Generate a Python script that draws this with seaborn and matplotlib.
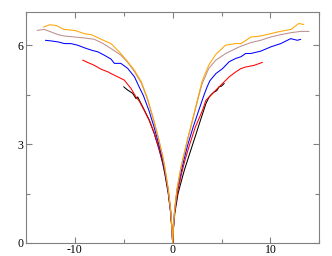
import numpy as np
import pandas as pd
import matplotlib
matplotlib.use('Agg')
import matplotlib.pyplot as plt
import seaborn as sns
from matplotlib.ticker import MultipleLocator

# curves, left end -> cusp at 0 -> right end
black_x = [-5.0, -4.85, -4.6, -4.08, -3.74, -3.57, -3.06, -2.39, -1.88, -1.37, -1.02, -0.8, -0.45, -0.2, -0.08, 0.0,
           0.08, 0.22, 0.55, 1.0, 1.2, 1.75, 2.3, 2.85, 3.4, 3.73, 4.0, 4.24, 4.5, 4.76, 5.0, 5.27]
black_y = [4.74, 4.7, 4.64, 4.54, 4.38, 4.43, 4.13, 3.73, 3.32, 2.82, 2.42, 2.1, 1.5, 0.9, 0.42, 0.0,
           0.42, 0.9, 1.5, 2.0, 2.21, 2.72, 3.22, 3.73, 4.23, 4.43, 4.52, 4.58, 4.62, 4.74, 4.76, 4.84]

red_x = [-9.2, -8.7, -8.0, -7.3, -6.6, -6.3, -5.6, -4.94, -4.26, -3.74, -3.4, -2.9, -2.4, -1.9, -1.4, -1.0, -0.8,
         -0.45, -0.2, -0.08, 0.0, 0.08, 0.2, 0.5, 0.95, 1.25, 1.7, 2.3, 3.06, 3.4, 3.74, 4.42, 5.1, 5.78, 6.45,
         6.97, 7.47, 8.33, 9.18]
red_y = [5.55, 5.48, 5.39, 5.27, 5.19, 5.14, 5.04, 4.94, 4.69, 4.43, 4.3, 4.02, 3.72, 3.35, 2.88, 2.45, 2.15,
         1.55, 0.93, 0.45, 0.0, 0.45, 0.93, 1.55, 2.15, 2.5, 2.95, 3.5, 4.03, 4.33, 4.43, 4.64, 4.84, 5.04, 5.19,
         5.29, 5.34, 5.39, 5.48]

blue_x = [-13.0, -12.4, -11.7, -11.06, -10.4, -9.7, -9.0, -8.3, -7.65, -7.0, -6.3, -5.96, -5.3, -4.6, -3.9,
          -3.4, -3.0, -2.4, -1.9, -1.4, -1.0, -0.8, -0.45, -0.2, -0.08, 0.0, 0.08, 0.2, 0.45, 0.9, 1.15, 1.55,
          2.1, 2.7, 3.22, 3.5, 3.8, 4.42, 5.1, 5.78, 6.45, 6.97, 7.47, 7.99, 9.0, 10.03, 11.05, 12.07, 12.75, 13.09]
blue_y = [6.15, 6.13, 6.1, 6.05, 6.05, 6.0, 5.92, 5.85, 5.8, 5.7, 5.58, 5.45, 5.45, 5.3, 5.04,
          4.72, 4.48, 4.0, 3.52, 2.98, 2.52, 2.2, 1.6, 0.96, 0.47, 0.0, 0.47, 0.96, 1.6, 2.2, 2.52, 2.98,
          3.52, 4.05, 4.5, 4.72, 4.92, 5.14, 5.29, 5.5, 5.6, 5.65, 5.75, 5.75, 5.82, 5.95, 6.05, 6.2, 6.15, 6.18]

rosy_x = [-13.85, -13.1, -12.4, -11.7, -11.06, -10.0, -9.0, -8.0, -7.1, -6.3, -5.3, -4.6, -3.9, -3.2, -2.6,
          -1.9, -1.4, -1.0, -0.8, -0.45, -0.2, -0.08, 0.0, 0.08, 0.2, 0.45, 0.85, 1.1, 1.5, 2.0, 2.6, 3.0, 3.7,
          4.42, 5.43, 6.45, 6.97, 7.99, 9.0, 10.03, 11.05, 12.07, 13.09, 13.94]
rosy_y = [6.45, 6.48, 6.4, 6.32, 6.28, 6.25, 6.22, 6.18, 6.05, 5.9, 5.7, 5.48, 5.2, 4.85, 4.38,
          3.68, 3.1, 2.6, 2.28, 1.63, 0.98, 0.49, 0.0, 0.49, 0.98, 1.63, 2.28, 2.6, 3.1, 3.68, 4.38, 4.82, 5.3,
          5.55, 5.75, 5.9, 5.97, 6.08, 6.15, 6.25, 6.32, 6.38, 6.42, 6.42]

orange_x = [-13.2, -12.6, -11.9, -11.1, -10.0, -9.0, -8.3, -7.3, -6.3, -5.3, -4.6, -3.9, -3.2, -2.6, -1.9,
            -1.4, -1.0, -0.8, -0.45, -0.2, -0.08, 0.0, 0.08, 0.2, 0.45, 0.85, 1.1, 1.5, 2.0, 2.6, 3.0, 3.7,
            4.4, 5.4, 6.4, 7.0, 8.0, 9.0, 10.0, 11.0, 12.1, 12.9, 13.4]
orange_y = [6.55, 6.62, 6.6, 6.48, 6.45, 6.35, 6.32, 6.18, 6.05, 5.75, 5.5, 5.24, 4.89, 4.42, 3.7,
            3.12, 2.62, 2.3, 1.65, 1.0, 0.5, 0.0, 0.5, 1.0, 1.65, 2.3, 2.62, 3.12, 3.7, 4.42, 4.9, 5.4,
            5.72, 6.0, 6.05, 6.05, 6.25, 6.28, 6.35, 6.42, 6.48, 6.66, 6.63]

curve_names = ['black', 'red', 'blue', 'rosy', 'orange']
curve_colors = {'black': '#000000', 'red': '#ff0000', 'blue': '#0000ff',
                'rosy': '#bc8f8f', 'orange': '#ffa500'}

frames = []
for name, xs, ys in zip(curve_names,
                        [black_x, red_x, blue_x, rosy_x, orange_x],
                        [black_y, red_y, blue_y, rosy_y, orange_y]):
    frames.append(pd.DataFrame({'x': xs, 'y': ys, 'curve': name}))
df = pd.concat(frames, ignore_index=True)

sns.set_style('ticks')
plt.rcParams['font.family'] = ['Liberation Serif', 'DejaVu Serif']
plt.rcParams['axes.unicode_minus'] = False

fig = plt.figure(figsize=(3.32, 2.56), dpi=100)
ax = fig.add_axes([0.078, 0.051, 0.884, 0.901])

sns.lineplot(data=df, x='x', y='y', hue='curve', hue_order=curve_names,
             palette=curve_colors, estimator=None, sort=False, legend=False,
             linewidth=0.75, ax=ax)

ax.set_xlim(-15, 15)
ax.set_ylim(0, 7)
ax.xaxis.set_major_locator(MultipleLocator(10))
ax.xaxis.set_minor_locator(MultipleLocator(5))
ax.yaxis.set_major_locator(MultipleLocator(3))
ax.yaxis.set_minor_locator(MultipleLocator(1.5))
ax.set_xlabel('')
ax.set_ylabel('')

gray = '#808080'
for sp in ax.spines.values():
    sp.set_visible(True)
    sp.set_color(gray)
    sp.set_linewidth(0.8)
ax.tick_params(which='both', direction='in', top=True, right=True,
               color=gray, width=0.8, labelcolor='black', labelsize=8.5)
ax.tick_params(which='major', length=4, pad=2)
ax.tick_params(which='minor', length=3)
ax.tick_params(axis='x', which='major', pad=1)

fig.savefig('out.png', dpi=100)
